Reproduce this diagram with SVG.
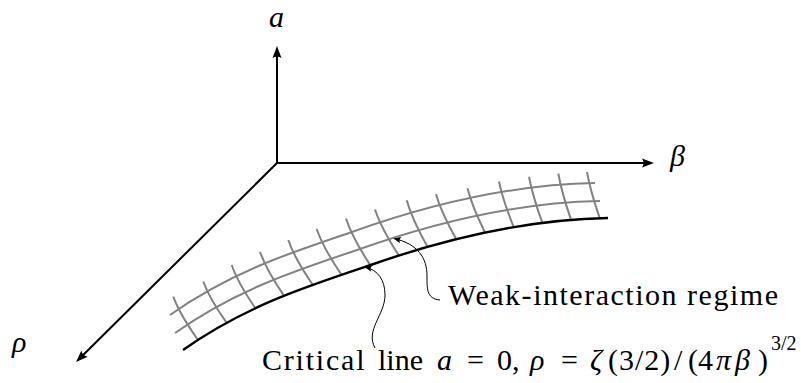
<svg xmlns="http://www.w3.org/2000/svg" width="801" height="383" viewBox="0 0 801 383" font-family="Liberation Serif">
<style>
.ax{fill:none;stroke:#000;stroke-width:2;marker-end:url(#ah)}
.crit{fill:none;stroke:#000;stroke-width:2.4}
.grid{fill:none;stroke:#828282;stroke-width:2}
.ann{fill:none;stroke:#000;stroke-width:1;marker-end:url(#sa)}
</style>
<defs>
<marker id="ah" viewBox="-8 -6 14 12" refX="0" refY="0" markerWidth="14" markerHeight="12" markerUnits="userSpaceOnUse" orient="auto">
<path d="M5,0 L-7,-4.5 Q-4,0 -7,4.5 Z" fill="#000"/>
</marker>
<marker id="sa" viewBox="-8 -4 9 8" refX="0" refY="0" markerWidth="9" markerHeight="8" markerUnits="userSpaceOnUse" orient="auto">
<path d="M0.5,0 L-7,-3.2 Q-4.5,0 -7,3.2 Z" fill="#000"/>
</marker>
<path id="cl" d="M183,350 C243,307.5 302,288 365,267 C446,238 527,219.5 608,218"/>
</defs>
<g id="surface">
<use href="#cl" class="grid" transform="translate(-8,-17)"/>
<use href="#cl" class="grid" transform="translate(-13,-35)"/>
<path class="grid" d="M173.3,296.7 Q179.5,314 198,340"/>
<path class="grid" d="M203.3,281.5 Q209.2,298.1 226.7,322.9"/>
<path class="grid" d="M231.7,265 Q237.6,282.3 255.4,308.3"/>
<path class="grid" d="M260,251.7 Q266,269.4 284.1,295.9"/>
<path class="grid" d="M288.3,240 Q294.4,258 312.8,284.9"/>
<path class="grid" d="M316.7,229 Q322.9,247.3 341.5,274.8"/>
<path class="grid" d="M346,218.5 Q352,237.1 370.2,265.1"/>
<path class="grid" d="M375,209.5 Q381,227.9 398.9,255.6"/>
<path class="grid" d="M406.7,200.3 Q411.9,219 427.6,246.9"/>
<path class="grid" d="M436,194.2 Q441.1,212.2 456.3,239.2"/>
<path class="grid" d="M467.5,188.3 Q471.9,206 485,232.5"/>
<path class="grid" d="M499,181.5 Q502.7,199.7 513.7,227.1"/>
<path class="grid" d="M529,176.7 Q532.4,195.2 542.4,222.9"/>
<path class="grid" d="M558.3,173.5 Q561.5,192.1 571.1,219.9"/>
<path class="grid" d="M587,172 Q590.2,190.5 599.8,218.3"/>
</g>
<g id="critical-line">
<use href="#cl" class="crit"/>
</g>
<g id="connectors">
<path class="ax" d="M277,163 L277,51"/>
<path class="ax" d="M277,163 L649,163"/>
<path class="ax" d="M277,163 L79.6,358.5"/>
<path class="ann" d="M440,300 C426,299 427,287 427,276 C427,258 418,244 394,238.5"/>
<path class="ann" d="M375,348 C365,330 385,315 385,295 C385,280 378,270 365,267"/>
</g>
<g id="label-a"><text style="font-family:'Liberation Serif',serif" font-size="30" font-style="italic" x="269" y="27">a</text></g>
<g id="label-beta"><text style="font-family:'Liberation Serif',serif" font-size="30" font-style="italic" x="670" y="166">β</text></g>
<g id="label-rho"><text style="font-family:'Liberation Serif',serif" font-size="30" font-style="italic" x="12" y="352">ρ</text></g>
<g id="label-weak"><text style="font-family:'Liberation Serif',serif" font-size="30" x="448" y="305" textLength="330" lengthAdjust="spacing">Weak-interaction regime</text></g>
<g id="label-critical"><text style="font-family:'Liberation Serif',serif" font-size="30" y="370"><tspan x="262" letter-spacing="1.8">Critical</tspan><tspan x="378">line</tspan><tspan x="437" font-style="italic">a</tspan><tspan x="467">=</tspan><tspan x="497">0,</tspan><tspan x="530" font-style="italic">ρ</tspan><tspan x="561">=</tspan><tspan x="590" font-style="italic">ζ</tspan><tspan x="608" letter-spacing="1">(3/2)</tspan><tspan x="674">/</tspan><tspan x="688">(4</tspan><tspan x="716" font-style="italic">π</tspan><tspan x="735" font-style="italic">β</tspan><tspan x="758">)</tspan><tspan x="771" y="350" font-size="20">3/2</tspan></text></g>
</svg>
